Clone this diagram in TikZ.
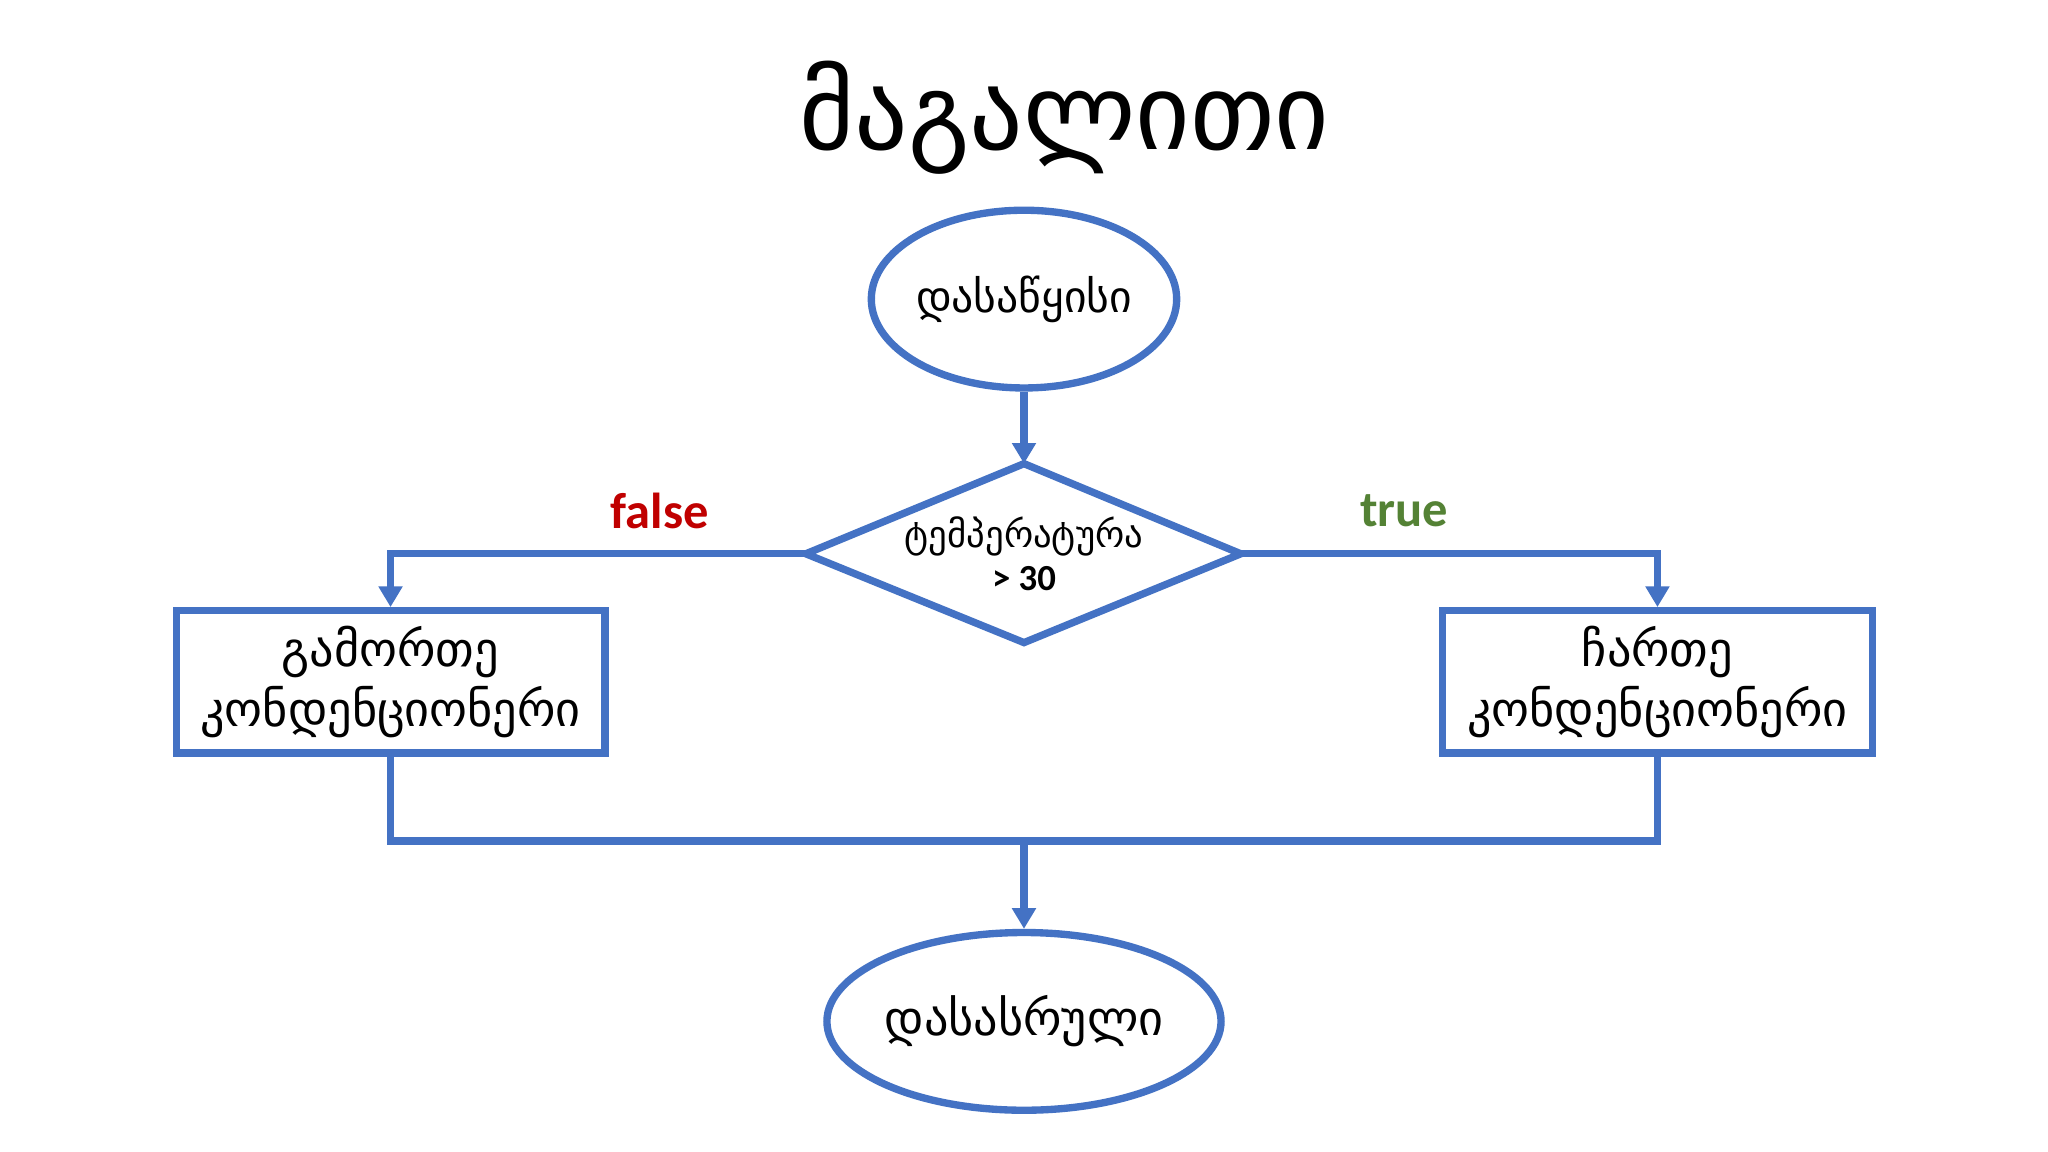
\documentclass[tikz,border=0pt]{standalone}
\usepackage{fontspec}
\newfontfamily\geo{DejaVu Sans}
\newfontfamily\carl{Carlito}
\usetikzlibrary{arrows.meta,shapes.geometric}
\definecolor{bl}{RGB}{68,114,196}
\definecolor{fr}{RGB}{192,0,0}
\definecolor{tg}{RGB}{84,130,53}
\begin{document}
\begin{tikzpicture}[x=0.01cm,y=-0.01cm,
  sh/.style={draw=bl,line width=1.6pt,fill=white,align=center,font=\geo\fontsize{10.5}{13}\selectfont},
  ell/.style={sh,ellipse,inner sep=0pt},
  conn/.style={draw=bl,line width=1.6pt},
  arr/.style={conn,-{Triangle[width=5pt,length=4.5pt]}}]
\fill[white] (0,0) rectangle (1568,882);
\node[font=\geo\fontsize{23}{26}\selectfont] (title) at (815,90) {მაგალითი};
\node[ell,font=\geo\fontsize{9.5}{11}\selectfont,minimum width=2.2cm,minimum height=1.36cm] (start) at (784,229) {დასაწყისი};
\node[ell,minimum width=2.48cm,minimum height=1.36cm] (end) at (784,782) {დასასრული};
\coordinate (dt) at (784,355); \coordinate (db) at (784,492);
\coordinate (dl) at (617,424); \coordinate (dr) at (950,424);
\draw[conn,fill=white,line join=miter] (dt)--(dr)--(db)--(dl)--cycle;
\node[align=center,font=\geo\fontsize{8}{9.5}\selectfont] (cond) at (784,424) {ტემპერატურა\\{\carl\bfseries > 30}};
\node[sh,minimum width=3.28cm,minimum height=0.98cm] (lb) at (299,522) {გამორთე\\კონდენციონერი};
\node[sh,minimum width=3.29cm,minimum height=0.98cm] (rb) at (1269,522) {ჩართე\\კონდენციონერი};
\coordinate (m) at (784,644);
\draw[arr] (start) -- (dt);
\draw[arr] (dl) -| (lb.north);
\draw[arr] (dr) -| (rb.north);
\draw[conn] (lb.south) |- (m) -| (rb.south);
\draw[arr] (m) -- (end);
\node[text=fr,font=\carl\bfseries\fontsize{11}{12}\selectfont] (f) at (505,391) {false};
\node[text=tg,font=\carl\bfseries\fontsize{11}{12}\selectfont] (t) at (1075,391) {true};
\end{tikzpicture}
\end{document}
